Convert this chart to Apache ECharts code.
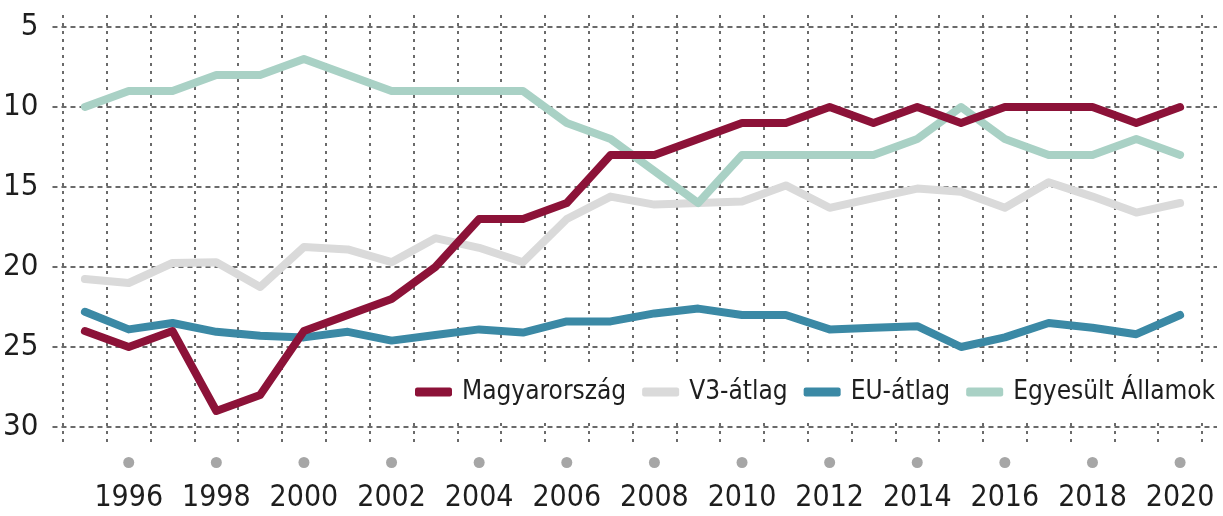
<!DOCTYPE html>
<html>
<head>
<meta charset="utf-8">
<script src="https://cdn.jsdelivr.net/npm/echarts@6/dist/echarts.min.js"></script>
<style>
html,body{margin:0;padding:0;background:#fff;}
#chart{width:1223px;height:516px;}
</style>
</head>
<body>
<div id="chart"></div>
<script>
const years = ['1995','1996','1997','1998','1999','2000','2001','2002','2003','2004','2005','2006','2007','2008','2009','2010','2011','2012','2013','2014','2015','2016','2017','2018','2019','2020'];
const magyarorszag = [24,25,24,29,28,24,23,22,20,17,17,16,13,13,12,11,11,10,11,10,11,10,10,10,11,10];
const v3Atlag = [20.75,21,19.75,19.7,21.25,18.75,18.9,19.7,18.2,18.8,19.7,17,15.6,16.1,16,15.9,14.9,16.3,15.7,15.1,15.3,16.3,14.7,15.6,16.6,16];
const euAtlag = [22.8,23.9,23.5,24.05,24.3,24.4,24.05,24.6,24.25,23.9,24.1,23.4,23.4,22.9,22.6,23,23,23.9,23.8,23.7,25,24.4,23.5,23.8,24.2,23];
const egyesultAllamok = [10,9,9,8,8,7,8,9,9,9,9,11,12,14,16,13,13,13,13,12,10,12,13,13,12,13];
const yTicks = [5,10,15,20,25,30];

const FONT = "'DejaVu Sans Condensed', 'Liberation Sans Narrow', sans-serif";
const GRIDC = '#3a3a3a';

const chart = echarts.init(document.getElementById('chart'));
const lineSeries = (name, data, color, z) => ({
  name, type: 'line', data, xAxisIndex: 1, yAxisIndex: 1,
  showSymbol: false, symbol: 'none', smooth: false, z,
  lineStyle: { color, width: 8, cap: 'round', join: 'round' },
  itemStyle: { color },
  emphasis: { disabled: true }
});

chart.setOption({
  animation: false,
  backgroundColor: '#fff',
  textStyle: { fontFamily: FONT },
  grid: [
    { left: 52, top: 27, width: 1165, height: 400 },
    { left: 63, top: 15, width: 1139, height: 428 }
  ],
  xAxis: [
    { type: 'value', gridIndex: 0, show: false, min: 0, max: 1 },
    {
      type: 'category', gridIndex: 1, data: years, boundaryGap: true,
      axisLine: { show: false }, axisTick: { show: false, interval: 0 },
      splitLine: { show: true, interval: 0, lineStyle: { color: GRIDC, width: 1.5, type: [3, 5] } },
      axisLabel: {
        interval: (i) => i % 2 === 1,
        margin: 14,
        formatter: (v) => '{d| }\n{y|' + v + '}',
        rich: {
          d: { width: 11, height: 11, lineHeight: 11, borderRadius: 6, backgroundColor: '#a6a6a6', align: 'center' },
          y: { fontSize: 30, lineHeight: 60, color: '#1e1e1e', fontFamily: FONT, align: 'center' }
        }
      }
    }
  ],
  yAxis: [
    {
      type: 'value', gridIndex: 0, inverse: true, min: 5, max: 30, interval: 5,
      axisLine: { show: false }, axisTick: { show: false },
      splitLine: { show: true, lineStyle: { color: GRIDC, width: 1.5, type: [5, 4] } },
      axisLabel: { margin: 14, fontSize: 31, color: '#1e1e1e', fontFamily: FONT,
        formatter: (v) => yTicks.includes(v) ? String(v) : '' }
    },
    { type: 'value', gridIndex: 1, inverse: true, min: 4.25, max: 31, show: false }
  ],
  legend: {
    data: ['Magyarország', 'V3-átlag', 'EU-átlag', 'Egyesült Államok'],
    left: 405, top: 364, width: 812, orient: 'horizontal',
    backgroundColor: '#fff', padding: [10, 4, 10, 10],
    icon: 'roundRect', itemWidth: 37, itemHeight: 9, itemGap: 16,
    textStyle: { fontSize: 26, lineHeight: 36, color: '#1e1e1e', fontFamily: FONT, padding: [0, 0, 0, 5] },
    selectedMode: false, z: 10
  },
  series: [
    lineSeries('V3-átlag', v3Atlag, '#dadada', 2),
    lineSeries('Egyesült Államok', egyesultAllamok, '#a9d1c5', 3),
    lineSeries('EU-átlag', euAtlag, '#3b89a5', 4),
    lineSeries('Magyarország', magyarorszag, '#8c1238', 5)
  ]
});
</script>
</body>
</html>
